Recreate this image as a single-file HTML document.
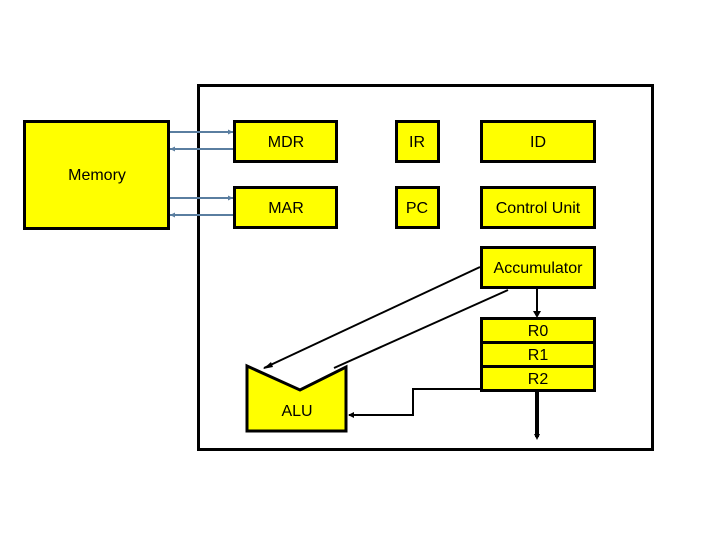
<!DOCTYPE html>
<html><head><style>
html,body{margin:0;padding:0;background:#fff;}
svg{display:block;}
text{font-family:"Liberation Sans",sans-serif;font-size:16px;fill:#000;text-anchor:middle;}
</style></head><body>
<svg width="720" height="540" viewBox="0 0 720 540">
<rect x="0" y="0" width="720" height="540" fill="#fff"/>
<rect x="198.5" y="85.5" width="454" height="364" fill="none" stroke="#000" stroke-width="3"/>
<g stroke="#000" stroke-width="3" fill="#ffff00">
<rect x="24.5" y="121.5" width="144" height="107"/>
<rect x="234.5" y="121.5" width="102" height="40"/>
<rect x="396.5" y="121.5" width="42" height="40"/>
<rect x="481.5" y="121.5" width="113" height="40"/>
<rect x="234.5" y="187.5" width="102" height="40"/>
<rect x="396.5" y="187.5" width="42" height="40"/>
<rect x="481.5" y="187.5" width="113" height="40"/>
<rect x="481.5" y="247.5" width="113" height="40"/>
<rect x="481.5" y="318.5" width="113" height="24"/>
<rect x="481.5" y="342.5" width="113" height="24"/>
<rect x="481.5" y="366.5" width="113" height="24"/>
<polygon points="247,366 300,390 346,367 346,431 247,431"/>
</g>
<g stroke="#5a7ea0" stroke-width="2">
<line x1="170" y1="132" x2="233" y2="132"/>
<line x1="170" y1="149" x2="233" y2="149"/>
<line x1="170" y1="198" x2="233" y2="198"/>
<line x1="170" y1="215" x2="233" y2="215"/>
</g>
<g fill="#5a7ea0">
<polygon points="233,132 228,129.5 228,134.5"/>
<polygon points="170,149 175,146.5 175,151.5"/>
<polygon points="233,198 228,195.5 228,200.5"/>
<polygon points="170,215 175,212.5 175,217.5"/>
</g>
<g stroke="#000" stroke-width="2" fill="none">
<line x1="480" y1="267" x2="264" y2="368"/>
<line x1="508" y1="290" x2="334" y2="368"/>
<line x1="537" y1="289" x2="537" y2="316"/>
<polyline points="480,389 413,389 413,415 349,415"/>
<line x1="537" y1="391" x2="537" y2="437" stroke-width="4"/>
</g>
<g fill="#000">
<polygon points="263,369 271,362 273,367"/>
<polygon points="533,311 541,311 537,318"/>
<polygon points="348,415 354,412 354,418"/>
<polygon points="534,434 540,434 537,440"/>
</g>
<text x="97" y="180">Memory</text>
<text x="286" y="147">MDR</text>
<text x="417" y="147">IR</text>
<text x="538" y="147">ID</text>
<text x="286" y="213">MAR</text>
<text x="417" y="213">PC</text>
<text x="538" y="213">Control Unit</text>
<text x="538" y="273">Accumulator</text>
<text x="538" y="336" font-size="15">R0</text>
<text x="538" y="360" font-size="15">R1</text>
<text x="538" y="384" font-size="15">R2</text>
<text x="297" y="416">ALU</text>
</svg>
</body></html>
